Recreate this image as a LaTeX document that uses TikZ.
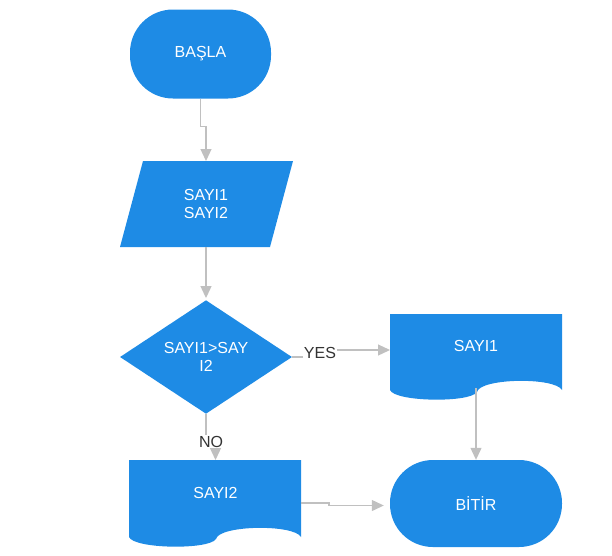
\documentclass[tikz,border=0pt]{standalone}
\usepackage{fontspec}
\setmainfont{Liberation Sans}
\usetikzlibrary{shapes.geometric,arrows.meta}
\definecolor{flowblue}{RGB}{30,139,229}
\definecolor{linegray}{RGB}{192,192,192}
\definecolor{labelgray}{RGB}{51,51,51}
\begin{document}
\begin{tikzpicture}[x=1pt,y=1pt,
	every node/.style={inner sep=0pt,font=\fontsize{16}{18}\selectfont},
	terminal/.style={fill=flowblue,rounded corners=43pt,text=white},
	decision/.style={shape=diamond,fill=flowblue,text=white,align=center},
	boxtext/.style={text=white,align=center},
	conn/.style={draw=linegray,line width=1.2pt,-{Triangle[length=12pt,width=11pt]}},
	lbl/.style={fill=white,inner sep=1pt,text=labelgray}]
	\useasboundingbox (0,0) rectangle (612,-555);
	% shapes
	\node [terminal,minimum width=141pt,minimum height=89pt] (basla) at (200.5,-54) {BAŞLA};
	\fill [flowblue] (143,-161) -- (293,-161) -- (270,-247) -- (120,-247) -- cycle;
	\node [boxtext] (sayilar) at (206,-204) {SAYI1\\SAYI2};
	\coordinate (partop) at (206,-161);
	\coordinate (parbot) at (206,-247);
	\node [decision,minimum width=172pt,minimum height=113pt] (dia) at (206,-357) {SAYI1>SAY\\I2};
	\fill [flowblue] (390,-314) -- (562,-314) -- (562,-390) .. controls (555,-377) and (480,-378) .. (477,-392) .. controls (470,-403) and (395,-402) .. (390,-390) -- cycle;
	\node [boxtext] (sayibir) at (476,-346) {SAYI1};
	\coordinate (s1in) at (390,-350);
	\coordinate (s1out) at (476,-388);
	\fill [flowblue] (129,-460) -- (301,-460) -- (301,-537) .. controls (294,-524) and (219,-525) .. (216,-539) .. controls (209,-550) and (134,-549) .. (129,-537) -- cycle;
	\node [boxtext] (sayiiki) at (215.5,-493) {SAYI2};
	\coordinate (s2top) at (215.5,-460);
	\coordinate (s2out) at (301,-503);
	\node [terminal,minimum width=172pt,minimum height=87pt] (bitir) at (476,-503.5) {BİTİR};
	% connectors
	\draw [conn] (basla.south) -- ++(0,-28) -| (partop);
	\draw [conn] (parbot) -- ([yshift=2pt]dia.north);
	\draw [conn] (dia.east) -- ++(28,0) |- (s1in);
	\draw [conn] (dia.south) -- ++(0,-28) -| (s2top);
	\draw [conn] (s1out) -- (bitir.north);
	\draw [conn,shorten >=6pt] (s2out) -- ++(28,0) |- ([yshift=-2pt]bitir.west);
	% labels
	\node [lbl] (yes) at (320,-352.5) {YES};
	\node [lbl] (no) at (211,-441.5) {NO};
\end{tikzpicture}
\end{document}
